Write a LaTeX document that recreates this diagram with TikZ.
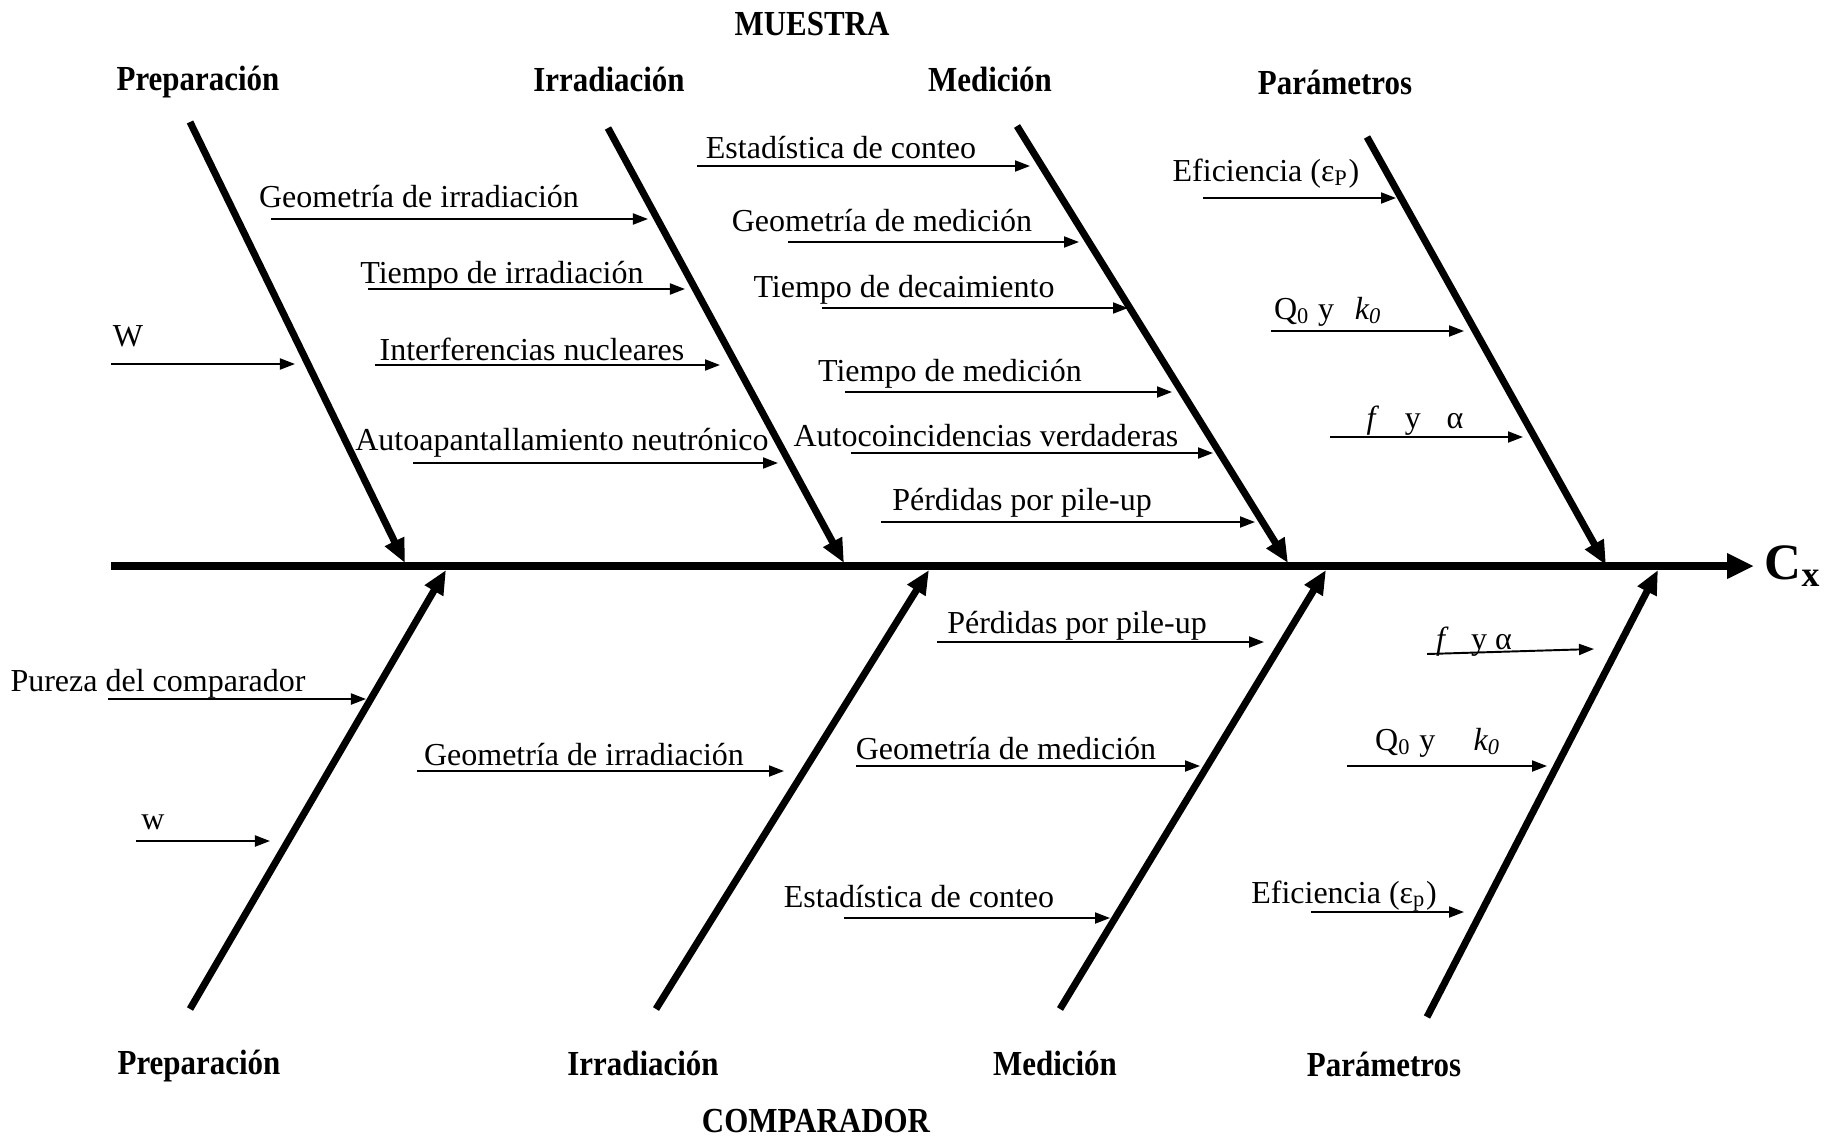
\documentclass[tikz,border=0pt]{standalone}
\usepackage{fontspec}
\setmainfont{Liberation Serif}
\newfontfamily\headfont[FakeStretch=0.88]{Liberation Serif}
\usetikzlibrary{arrows.meta}

\tikzset{
  espina/.style={line width=2.3pt, -{Triangle[length=2.7mm,width=2.4mm]}},
  hueso/.style={line width=2pt, -{Triangle[length=2.4mm,width=2mm]}},
  causa/.style={line width=0.55pt, -{Triangle[length=1.5mm,width=1.1mm]}},
  texto/.style={font=\fontsize{9.1}{11}\selectfont, inner sep=0pt},
  grupo/.style={font=\headfont\bfseries\fontsize{10}{12}\selectfont, inner sep=0pt},
}

\begin{document}
\begin{tikzpicture}[x=0.01cm, y=-0.01cm]
    \useasboundingbox (0,0) rectangle (1827,1139);

    % espina central
    \coordinate (cola) at (111,566);
    \node[anchor=west, inner sep=1mm, font=\bfseries\fontsize{14.5}{16}\selectfont] (cx) at (1754,566) {C\textsubscript{x}};
    \draw[espina] (cola) -- (cx.west);

    % titulos
    \node[grupo] (muestra) at (812,24) {MUESTRA};
    \node[grupo] (comparador) at (816,1121) {COMPARADOR};

    % huesos de arriba (muestra)
    \foreach \n/\xa/\ya/\xb/\yb in {1/190/122/405/563, 2/608/128/844/563,
                                    3/1017/126/1288/563, 4/1367/137/1606/565} {
        \coordinate (s\n) at (\xa,\ya);
        \coordinate (e\n) at (\xb,\yb);
        \draw[hueso] (s\n) -- (e\n);
    }
    \node[grupo] (gs1) at (198,82) {Preparación};
    \node[grupo] (gs2) at (609,79) {Irradiación};
    \node[grupo] (gs3) at (990,79) {Medición};
    \node[grupo] (gs4) at (1335,82) {Parámetros};

    % huesos de abajo (comparador)
    \foreach \n/\xa/\ya/\xb/\yb in {1/190/1009/446/570, 2/656/1009/929/570,
                                    3/1060/1009/1326/570, 4/1427/1017/1658/570} {
        \coordinate (si\n) at (\xa,\ya);
        \coordinate (ei\n) at (\xb,\yb);
        \draw[hueso] (si\n) -- (ei\n);
    }
    \node[grupo] (gi1) at (199,1066) {Preparación};
    \node[grupo] (gi2) at (643,1063) {Irradiación};
    \node[grupo] (gi3) at (1055,1063) {Medición};
    \node[grupo] (gi4) at (1384,1064) {Parámetros};

    % causas
    \foreach \n/\xa/\xb/\y/\tx/\ty/\txt in {
        1/271/648/219/419/197/{Geometría de irradiación},
        2/368/685/289/502/276/{Tiempo de irradiación},
        3/375/720/365/532/349/{Interferencias nucleares},
        4/413/778/463/562/443/{Autoapantallamiento neutrónico},
        5/111/295/364/128/336/{W},
        6/697/1030/166/841/148/{Estadística de conteo},
        7/788/1079/242/882/221/{Geometría de medición},
        8/822/1128/308/904/290/{Tiempo de decaimiento},
        9/845/1172/392/950/374/{Tiempo de medición},
        10/851/1213/453/986/436/{Autocoincidencias verdaderas},
        11/881/1255/522/1022/503/{Pérdidas por pile-up},
        12/1203/1396/198/1266/174/{Eficiencia (ε\textsubscript{P})},
        13/1271/1464/331/1328/312/{Q\textsubscript{0} y\hspace{0.65em}\textit{k\textsubscript{0}}},
        14/1330/1523/437/1415/421/{\textit{f}\hspace{0.8em}y\hspace{0.8em}α},
        15/108/366/699/158/684/{Pureza del comparador},
        16/136/270/841/153/822/{w},
        17/417/784/771/584/755/{Geometría de irradiación},
        18/937/1264/642/1077/626/{Pérdidas por pile-up},
        19/856/1200/766/1006/749/{Geometría de medición},
        20/844/1110/918/919/897/{Estadística de conteo},
        21/1347/1547/766/1438/743/{Q\textsubscript{0} y\hspace{1.2em}\textit{k\textsubscript{0}}},
        22/1311/1464/912/1344/896/{Eficiencia (ε\textsubscript{p})}} {
        \coordinate (a\n) at (\xa,\y);
        \coordinate (b\n) at (\xb,\y);
        \draw[causa] (a\n) -- (b\n);
        \node[texto] (t\n) at (\tx,\ty) {\txt};
    }
    % f y alfa del comparador (algo inclinada)
    \coordinate (a23) at (1427,654);
    \coordinate (b23) at (1594,649);
    \node[texto] (t23) at (1474,642) {\textit{f}\hspace{0.7em}y α};
    \draw[causa] (a23) -- (b23);
\end{tikzpicture}
\end{document}
